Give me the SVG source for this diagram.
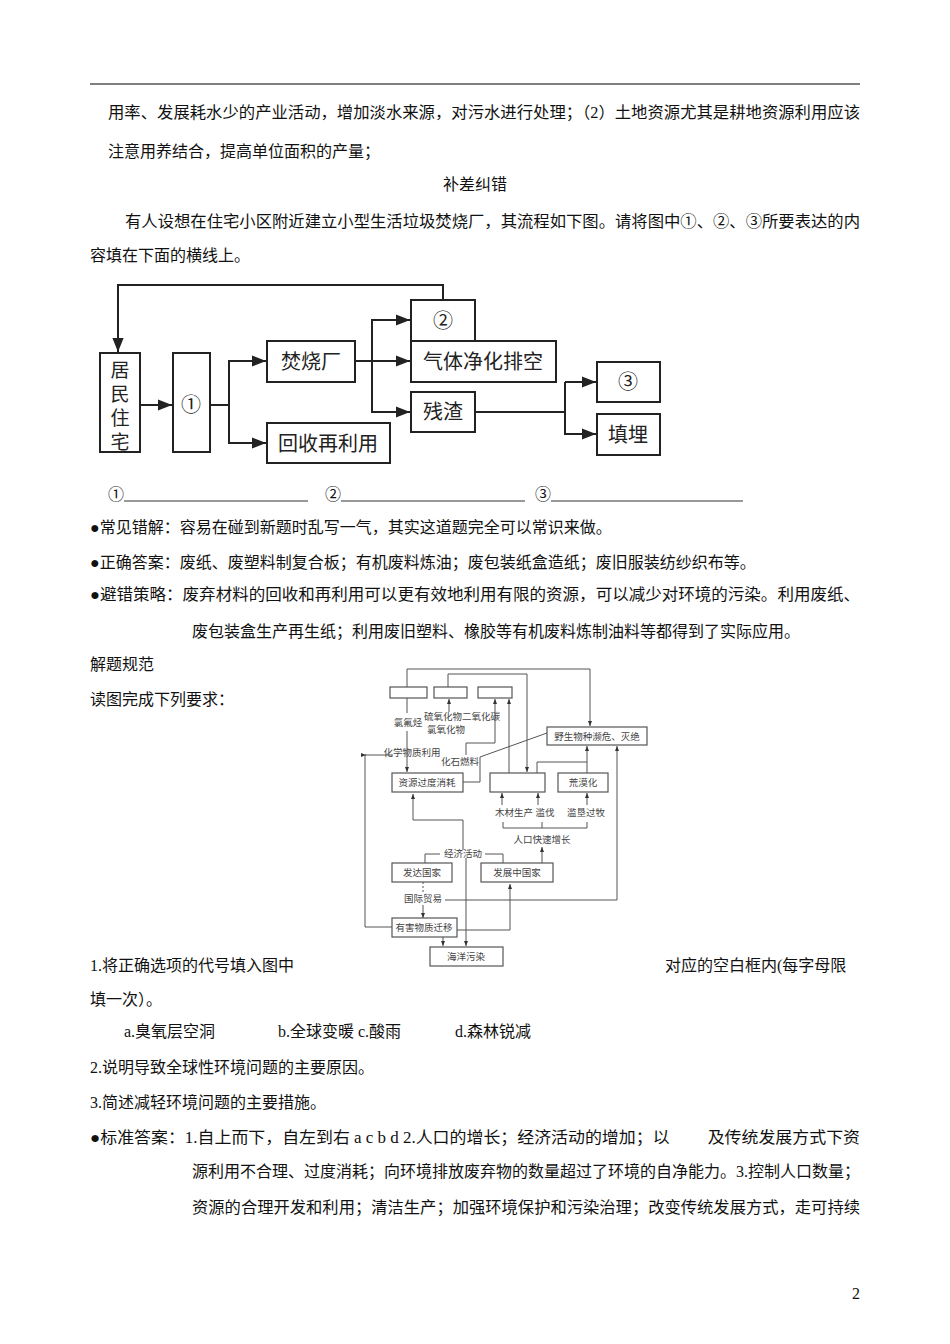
<svg xmlns="http://www.w3.org/2000/svg" width="950" height="1344" viewBox="0 0 950 1344">
<defs>
<marker id="a" viewBox="0 0 10 10" refX="10" refY="5" markerWidth="7" markerHeight="7" orient="auto"><path d="M0,1 L10,5 L0,9 z" fill="#222"/></marker>
<marker id="s" viewBox="0 0 10 10" refX="10" refY="5" markerWidth="5" markerHeight="5" orient="auto"><path d="M0,1 L10,5 L0,9 z" fill="#333"/></marker>
</defs>
<style>
.t{font-family:"Liberation Serif","Noto Sans CJK SC",serif;font-size:16px;fill:#111}
.b{fill:#fff;stroke:#222;stroke-width:2}
.l{fill:none;stroke:#222;stroke-width:2}
.n{font-family:"Noto Sans CJK SC",sans-serif;font-size:20px;fill:#222;text-anchor:middle}
.v{font-family:"Noto Sans CJK SC",sans-serif;font-size:19px;fill:#222;text-anchor:middle}
.b2{fill:#fff;stroke:#555;stroke-width:1.2}
.l2{fill:none;stroke:#555;stroke-width:1}
.s{font-family:"Noto Sans CJK SC",sans-serif;font-size:9.5px;fill:#444;text-anchor:middle}
</style>
<rect width="950" height="1344" fill="#fff"/>
<line x1="90" y1="84" x2="860" y2="84" stroke="#000" stroke-width="1"/>
<g id="text">
<text class="t" x="108" y="118" textLength="752" lengthAdjust="spacingAndGlyphs">用率、发展耗水少的产业活动，增加淡水来源，对污水进行处理；（2）土地资源尤其是耕地资源利用应该</text>
<text class="t" x="108" y="157">注意用养结合，提高单位面积的产量；</text>
<text class="t" x="443" y="190">补差纠错</text>
<text class="t" x="125" y="227" textLength="735" lengthAdjust="spacingAndGlyphs">有人设想在住宅小区附近建立小型生活垃圾焚烧厂，其流程如下图。请将图中①、②、③所要表达的内</text>
<text class="t" x="90" y="261">容填在下面的横线上。</text>
<text class="t" x="108" y="500">①</text><line x1="124" y1="501" x2="308" y2="501" stroke="#333"/>
<text class="t" x="325" y="500">②</text><line x1="341" y1="501" x2="525" y2="501" stroke="#333"/>
<text class="t" x="535" y="500">③</text><line x1="551" y1="501" x2="743" y2="501" stroke="#333"/>
<text class="t" x="90" y="533">●常见错解：容易在碰到新题时乱写一气，其实这道题完全可以常识来做。</text>
<text class="t" x="90" y="568">●正确答案：废纸、废塑料制复合板；有机废料炼油；废包装纸盒造纸；废旧服装纺纱织布等。</text>
<text class="t" x="90" y="600" textLength="770" lengthAdjust="spacingAndGlyphs">●避错策略：废弃材料的回收和再利用可以更有效地利用有限的资源，可以减少对环境的污染。利用废纸、</text>
<text class="t" x="192" y="637">废包装盒生产再生纸；利用废旧塑料、橡胶等有机废料炼制油料等都得到了实际应用。</text>
<text class="t" x="90" y="670">解题规范</text>
<text class="t" x="90" y="705">读图完成下列要求：</text>
<text class="t" x="90" y="971">1.将正确选项的代号填入图中</text>
<text class="t" x="665" y="971">对应的空白框内(每字母限</text>
<text class="t" x="90" y="1005">填一次）。</text>
<text class="t" x="124" y="1037">a.臭氧层空洞</text>
<text class="t" x="278" y="1037">b.全球变暖 c.酸雨</text>
<text class="t" x="455" y="1037">d.森林锐减</text>
<text class="t" x="90" y="1073">2.说明导致全球性环境问题的主要原因。</text>
<text class="t" x="90" y="1108">3.简述减轻环境问题的主要措施。</text>
<text class="t" x="90" y="1143" textLength="770" lengthAdjust="spacingAndGlyphs">●标准答案：1.自上而下，自左到右 a c b d 2.人口的增长；经济活动的增加；以　　 及传统发展方式下资</text>
<text class="t" x="192" y="1177" textLength="668" lengthAdjust="spacingAndGlyphs">源利用不合理、过度消耗；向环境排放废弃物的数量超过了环境的自净能力。3.控制人口数量；</text>
<text class="t" x="192" y="1213" textLength="668" lengthAdjust="spacingAndGlyphs">资源的合理开发和利用；清洁生产；加强环境保护和污染治理；改变传统发展方式，走可持续</text>
<text class="t" x="852" y="1299" font-size="13">2</text>
</g>
<g id="connectors1">
<polyline class="l" points="443,300 443,285 118,285 118,352" marker-end="url(#a)"/>
<line class="l" x1="140" y1="405" x2="172" y2="405" marker-end="url(#a)"/>
<polyline class="l" points="210,405 229,405 229,361 266,361" marker-end="url(#a)"/>
<polyline class="l" points="229,405 229,443 266,443" marker-end="url(#a)"/>
<line class="l" x1="355" y1="361" x2="410" y2="361" marker-end="url(#a)"/>
<polyline class="l" points="410,320 372,320 372,412 410,412" marker-end="url(#a)"/>
<polyline class="l" points="372,320 410,320" marker-end="url(#a)"/>
<line class="l" x1="475" y1="412" x2="565" y2="412"/>
<polyline class="l" points="565,382 565,434 596,434" marker-end="url(#a)"/>
<polyline class="l" points="565,382 596,382" marker-end="url(#a)"/>
</g>
<g id="n-jumin"><rect class="b" x="100" y="353" width="40" height="99"/><text class="v" x="120" y="377">居</text><text class="v" x="120" y="401">民</text><text class="v" x="120" y="425">住</text><text class="v" x="120" y="449">宅</text></g>
<g id="n-1"><rect class="b" x="173" y="353" width="37" height="99"/><text class="n" x="191" y="412">①</text></g>
<g id="n-fsc"><rect class="b" x="267" y="341" width="88" height="41"/><text class="n" x="311" y="369">焚烧厂</text></g>
<g id="n-hs"><rect class="b" x="267" y="423" width="123" height="40"/><text class="n" x="328" y="451">回收再利用</text></g>
<g id="n-2"><rect class="b" x="411" y="300" width="64" height="42"/><text class="n" x="443" y="328">②</text></g>
<g id="n-qt"><rect class="b" x="411" y="341" width="145" height="41"/><text class="n" x="483" y="369">气体净化排空</text></g>
<g id="n-cz"><rect class="b" x="411" y="392" width="64" height="40"/><text class="n" x="443" y="419">残渣</text></g>
<g id="n-3"><rect class="b" x="597" y="362" width="63" height="40"/><text class="n" x="628" y="389">③</text></g>
<g id="n-tm"><rect class="b" x="597" y="414" width="63" height="41"/><text class="n" x="628" y="442">填埋</text></g>
<g id="connectors2">
<polyline class="l2" points="407,687 407,669 590,669 590,726" marker-end="url(#s)"/>
<line class="l2" x1="407" y1="698" x2="407" y2="713"/>
<line class="l2" x1="407" y1="731" x2="407" y2="772" marker-end="url(#s)"/>
<polyline class="l2" points="448,687 448,674 527,674 527,772" marker-end="url(#s)"/>
<line class="l2" x1="449" y1="712" x2="449" y2="699" marker-end="url(#s)"/>
<polyline class="l2" points="466,755 466,743 495,743 495,699" marker-end="url(#s)"/>
<line class="l2" x1="509" y1="773" x2="509" y2="699" marker-end="url(#s)"/>
<polyline class="l2" points="463,782 480,782 480,757 547,733"/>
<polyline class="l2" points="537,773 537,762 587,762"/>
<line class="l2" x1="587" y1="773" x2="587" y2="746" marker-end="url(#s)"/>
<line class="l2" x1="617" y1="900" x2="617" y2="746" marker-end="url(#s)"/>
<polyline class="l2" points="392,755 365,755 365,927 392,927"/>
<line class="l2" x1="365" y1="755" x2="366" y2="755" marker-end="url(#s)"/>
<line class="l2" x1="502" y1="805" x2="502" y2="793" marker-end="url(#s)"/>
<line class="l2" x1="538" y1="805" x2="538" y2="793" marker-end="url(#s)"/>
<line class="l2" x1="587" y1="805" x2="587" y2="793" marker-end="url(#s)"/>
<polyline class="l2" points="503,822 503,828 587,828 587,822"/>
<line class="l2" x1="542" y1="822" x2="542" y2="828"/>
<line class="l2" x1="542" y1="863" x2="542" y2="847" marker-end="url(#s)"/>
<polyline class="l2" points="463,850 463,820 413,820 413,794" marker-end="url(#s)"/>
<polyline class="l2" points="425,863 425,854 440,854"/>
<polyline class="l2" points="485,854 503,854 503,863"/>
<line class="l2" x1="466" y1="858" x2="466" y2="946" stroke-width="2" marker-end="url(#s)"/>
<line class="l2" x1="423" y1="882" x2="423" y2="892" stroke-dasharray="2,2"/>
<line class="l2" x1="423" y1="905" x2="423" y2="918" marker-end="url(#s)"/>
<line class="l2" x1="445" y1="900" x2="617" y2="900"/>
<polyline class="l2" points="457,930 510,930 510,884" marker-end="url(#s)"/>
<line class="l2" x1="443" y1="937" x2="443" y2="946" marker-end="url(#s)"/>
</g>
<g id="n-a"><rect class="b2" x="390" y="687" width="37" height="11"/></g>
<g id="n-b"><rect class="b2" x="434" y="687" width="33" height="11"/></g>
<g id="n-c"><rect class="b2" x="478" y="687" width="34" height="11"/></g>
<g id="labels2">
<text class="s" x="408" y="726">氯氟烃</text>
<text class="s" x="462" y="720">硫氧化物二氧化碳</text>
<text class="s" x="446" y="733">氯氧化物</text>
<text class="s" x="412" y="756">化学物质利用</text>
<text class="s" x="460" y="765">化石燃料</text>
<text class="s" x="514" y="816">木材生产</text>
<text class="s" x="545" y="816">滥伐</text>
<text class="s" x="586" y="816">滥垦过牧</text>
<text class="s" x="542" y="843">人口快速增长</text>
<text class="s" x="463" y="857">经济活动</text>
<text class="s" x="423" y="902">国际贸易</text>
</g>
<g id="n-yeshen"><rect class="b2" x="547" y="727" width="100" height="18"/><text class="s" x="597" y="740">野生物种濒危、灭绝</text></g>
<g id="n-ziyuan"><rect class="b2" x="392" y="773" width="71" height="19"/><text class="s" x="427" y="786">资源过度消耗</text></g>
<g id="n-d"><rect class="b2" x="490" y="773" width="55" height="19"/></g>
<g id="n-hmh"><rect class="b2" x="558" y="773" width="50" height="19"/><text class="s" x="583" y="786">荒漠化</text></g>
<g id="n-fada"><rect class="b2" x="392" y="863" width="60" height="19"/><text class="s" x="422" y="876">发达国家</text></g>
<g id="n-fazhan"><rect class="b2" x="481" y="863" width="72" height="19"/><text class="s" x="517" y="876">发展中国家</text></g>
<g id="n-youhai"><rect class="b2" x="392" y="918" width="65" height="19"/><text class="s" x="424" y="931">有害物质迁移</text></g>
<g id="n-haiyang"><rect class="b2" x="430" y="947" width="73" height="19"/><text class="s" x="466" y="960">海洋污染</text></g>
</svg>
